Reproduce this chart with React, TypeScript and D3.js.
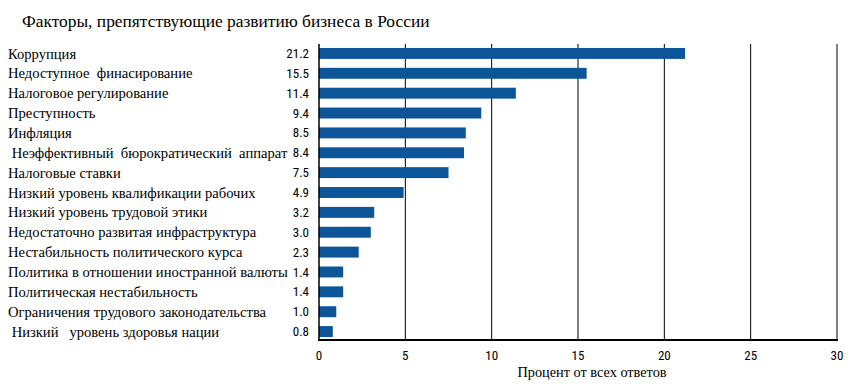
import * as d3 from "d3";

const categories = [
  "Коррупция",
  "Недоступное  финасирование",
  "Налоговое регулирование",
  "Преступность",
  "Инфляция",
  " Неэффективный  бюрократический  аппарат",
  "Налоговые ставки",
  "Низкий уровень квалификации рабочих",
  "Низкий уровень трудовой этики",
  "Недостаточно развитая инфраструктура",
  "Нестабильность политического курса",
  "Политика в отношении иностранной валюты",
  "Политическая нестабильность",
  "Ограничения трудового законодательства",
  " Низкий   уровень здоровья нации",
];
const values = [21.2, 15.5, 11.4, 9.4, 8.5, 8.4, 7.5, 4.9, 3.2, 3.0, 2.3, 1.4, 1.4, 1.0, 0.8];
const xTicks = [0, 5, 10, 15, 20, 25, 30];

const W = 859;
const H = 391;

const left = 319;
const right = 837;
const top = 44;
const bottom = 340;

const SERIF = "Liberation Serif";
const NARROW = "Roboto Condensed, Liberation Sans, sans-serif";

const App = () => {
  const x = d3.scaleLinear().domain([0, 30]).range([left, right]);
  const y = d3
    .scaleBand<number>()
    .domain(d3.range(categories.length))
    .range([top, bottom + 1])
    .paddingInner(0.45)
    .paddingOuter(0.2);
  const mid = (i: number) => y(i)! + y.bandwidth() / 2;

  return (
    <svg
      width={W}
      height={H}
      style={{ position: "absolute", left: 0, top: 0, background: "#fff" }}
    >
      <text x={22} y={27} fontFamily={SERIF} fontSize={17.4} fill="#000">
        Факторы, препятствующие развитию бизнеса в России
      </text>

      {/* gridlines */}
      {xTicks.slice(1).map((t) => (
        <line key={t} x1={x(t)} x2={x(t)} y1={top} y2={bottom} stroke="#000" strokeWidth={1} />
      ))}

      {/* bars */}
      {values.map((v, i) => (
        <rect
          key={i}
          x={x(0)}
          y={y(i)}
          width={x(v) - x(0)}
          height={y.bandwidth()}
          fill="#0d5599"
        />
      ))}

      <line x1={x(0)} x2={x(0)} y1={top} y2={bottom} stroke="#000" strokeWidth={1.5} />
      <line x1={x(0) - 1} x2={x(30) + 1} y1={bottom} y2={bottom} stroke="#000" strokeWidth={2} />

      {/* category labels */}
      {categories.map((c, i) => (
        <text
          key={i}
          x={8}
          y={mid(i)}
          dy="0.35em"
          fontFamily={SERIF}
          fontSize={14.6}
          fill="#000"
          style={{ whiteSpace: "pre" }}
        >
          {c}
        </text>
      ))}

      {/* value labels */}
      {values.map((v, i) => (
        <text
          key={i}
          x={309}
          y={mid(i)}
          dy="0.35em"
          textAnchor="end"
          fontFamily={NARROW}
          fontSize={13}
          fill="#000"
        >
          {v.toFixed(1)}
        </text>
      ))}

      {/* x tick labels */}
      {xTicks.map((t) => (
        <text
          key={t}
          x={x(t)}
          y={360}
          textAnchor="middle"
          fontFamily={NARROW}
          fontSize={13}
          fill="#000"
        >
          {t}
        </text>
      ))}

      <text x={592} y={377} textAnchor="middle" fontFamily={SERIF} fontSize={14.3} fill="#000">
        Процент от всех ответов
      </text>
    </svg>
  );
};

export default App;
